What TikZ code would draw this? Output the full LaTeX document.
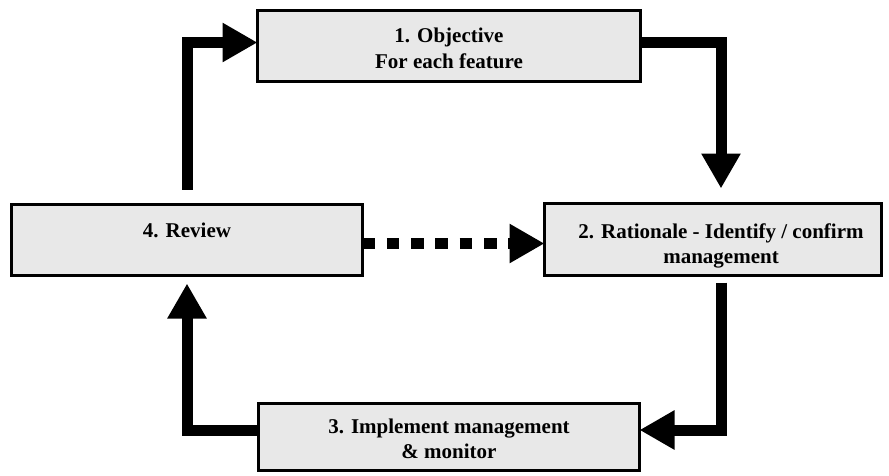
\documentclass[tikz,border=0pt]{standalone}
\usepackage{fontspec}
\setmainfont{Liberation Serif}
\usetikzlibrary{arrows.meta}
\definecolor{boxgray}{HTML}{E8E8E8}
\tikzset{
  box/.style={draw=black, line width=3pt, fill=boxgray, rectangle, inner sep=0pt, outer sep=0pt},
  lbl/.style={anchor=base, inner sep=0pt, font=\fontsize{21}{26}\selectfont\bfseries},
  flow/.style={line width=11pt, line join=miter, -{Triangle[length=35pt,width=37pt]}},
  dflow/.style={flow, dash pattern=on 12.5pt off 11.8pt}
}
\begin{document}
\begin{tikzpicture}[x=1pt,y=-1pt]
\useasboundingbox (0,0) rectangle (889,475);
\fill[white] (0,0) rectangle (889,475);
% boxes
\node[box, minimum width=383pt, minimum height=71pt] (b1) at (449,46) {};
\node[box, minimum width=351pt, minimum height=71pt] (b4) at (187,240) {};
\node[box, minimum width=337pt, minimum height=72pt] (b2) at (713,239.5) {};
\node[box, minimum width=381pt, minimum height=67pt] (b3) at (449,437) {};
% texts
\node[lbl] (t1a) at (449,42) {1. Objective};
\node[lbl] (t1b) at (449,68) {For each feature};
\node[lbl] (t4) at (187,237) {4. Review};
\node[lbl] (t2a) at (721,238) {2. Rationale - Identify / confirm};
\node[lbl] (t2b) at (721,263) {management};
\node[lbl] (t3a) at (449,433) {3. Implement management};
\node[lbl] (t3b) at (449,458) {\& monitor};
% connectors
\draw[flow] ([yshift=15pt]b4.north) |- ([yshift=3.5pt]b1.west);
\draw[flow] ([yshift=3.5pt]b1.east) -| ([xshift=8pt,yshift=15pt]b2.north);
\draw[flow] ([xshift=8.5pt,yshift=-7pt]b2.south) |- ([yshift=7pt]b3.east);
\draw[flow] ([yshift=7pt]b3.west) -| ([yshift=-8pt]b4.south);
\draw[dflow] ([yshift=-3.5pt]b4.east) -- ([yshift=-4pt]b2.west);
\end{tikzpicture}
\end{document}
